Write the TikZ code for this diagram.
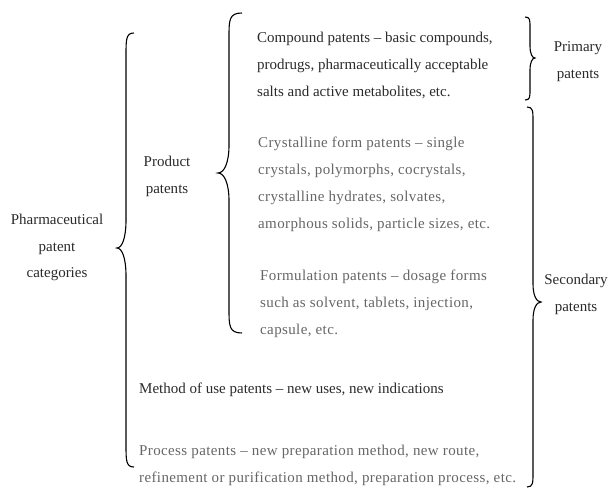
\documentclass[tikz,border=0pt]{standalone}
\usepackage{fontspec}
\setmainfont{Liberation Serif}
\newfontfamily\spacedfont[LetterSpace=2.5]{Liberation Serif}
\definecolor{dk}{HTML}{2A2A2A}
\definecolor{lt}{HTML}{666666}
\tikzset{
  txt/.style={inner sep=0pt, anchor=north west, align=left, text=dk,
              font=\fontsize{15}{27}\selectfont},
  gtxt/.style={txt, text=lt, font=\spacedfont\fontsize{15}{27}\selectfont},
  ctxt/.style={txt, anchor=north, align=center, font=\fontsize{15}{26.5}\selectfont},
  brc/.style={line width=1.1pt, black}
}
% curly brace: x, top, middle, bottom, end offset, tip offset, curl length, tip length
\newcommand\Brc[8]{%
  \draw[brc] ({#1+#5},#2) .. controls (#1,#2) and (#1,{#2+0.3*#7}) .. (#1,{#2+#7})
    -- (#1,{#3-#8}) .. controls (#1,{#3-0.35*#8}) and ({#1+0.45*#6},#3) .. ({#1+#6},#3)
    .. controls ({#1+0.45*#6},#3) and (#1,{#3+0.35*#8}) .. (#1,{#3+#8})
    -- (#1,{#4-#7}) .. controls (#1,{#4-0.3*#7}) and (#1,#4) .. ({#1+#5},#4);}
\begin{document}
\begin{tikzpicture}[x=1pt,y=-1pt]
\useasboundingbox (0,0) rectangle (609,489);
% braces
\Brc{126}{33}{248}{467}{8}{-9}{22}{28}
\Brc{229}{13}{173}{333}{13}{-11}{24}{28}
\Brc{530}{17}{58}{100}{-5}{5}{10}{12}
\Brc{533}{107}{302}{487}{-6}{8}{14}{18}
% texts
\node[ctxt] (pharma) at (57,206) {\strut Pharmaceutical\\patent\\categories};
\node[ctxt] (product) at (167,148) {\strut Product\\patents};
\node[ctxt] (primary) at (578,33) {\strut Primary\\patents};
\node[ctxt] (secondary) at (576,266) {\strut Secondary\\patents};
\node[txt] (compound) at (257,23) {\strut Compound patents \textendash\ basic compounds,\\prodrugs, pharmaceutically acceptable\\salts and active metabolites, etc.};
\node[gtxt] (crystal) at (258,128) {\strut Crystalline form patents \textendash\ single\\crystals, polymorphs, cocrystals,\\crystalline hydrates, solvates,\\amorphous solids, particle sizes, etc.};
\node[gtxt] (formul) at (260,261) {\strut Formulation patents \textendash\ dosage forms\\such as solvent, tablets, injection,\\capsule, etc.};
\node[txt] (method) at (139,374) {\strut Method of use patents \textendash\ new uses, new indications};
\node[gtxt] (process) at (139,436) {\strut Process patents \textendash\ new preparation method, new route,\\refinement or purification method, preparation process, etc.};
\end{tikzpicture}
\end{document}
